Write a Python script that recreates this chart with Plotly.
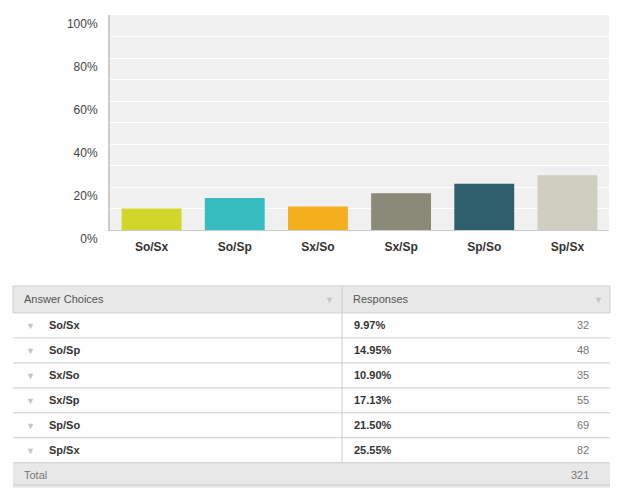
import plotly.graph_objs as go

# answer choices and survey results
choices = ['So/Sx', 'So/Sp', 'Sx/So', 'Sx/Sp', 'Sp/So', 'Sp/Sx']
percents = [9.97, 14.95, 10.90, 17.13, 21.50, 25.55]
counts = [32, 48, 35, 55, 69, 82]
total = 321
bar_colors = ['#d1d62b', '#35bdbf', '#f5ae1e', '#8a8a78', '#2d5f6d', '#d0cec0']
ytick_vals = [0, 0.2, 0.4, 0.6, 0.8, 1.0]
ytick_text = ['0%', '20%', '40%', '60%', '80%', '100%']
header_text = ['Answer Choices', 'Responses']

# positions below are pixels in the final picture. The page keeps an 8px
# body margin and the capture is squeezed vertically (found by trial),
# px/py turn picture pixels into paper coords.
OFF = 8
W, H = 622 - OFF, 494
SY = 494 / (H + 2 * OFF)
FONT = 'Arial, Liberation Sans, sans-serif'


def px(x):
    return (x - OFF) / W


def py(y):
    return 1 - (y / SY - OFF) / H


bar_data = go.Bar(
    x=choices,
    y=[p / 100 for p in percents],
    marker=dict(color=bar_colors, line=dict(width=0)),
    hoverinfo='skip',
)

fig = go.Figure(data=[bar_data])

# table, drawn with shapes and annotations in paper coords
tbl_left, tbl_right, tbl_mid = 13, 610, 342
head_top, head_h, row_h = 286, 27, 25
rows_top = head_top + head_h
total_top = rows_top + row_h * len(choices)
total_bot = total_top + row_h

shapes = []
annotations = []

shapes.append(dict(type='rect', xref='paper', yref='paper', x0=px(tbl_left), x1=px(tbl_right),
                   y0=py(head_top), y1=py(rows_top), fillcolor='#e8e8e8',
                   line=dict(color='#d0d0d0', width=1), layer='below'))
shapes.append(dict(type='rect', xref='paper', yref='paper', x0=px(tbl_left), x1=px(tbl_right),
                   y0=py(total_top), y1=py(total_bot), fillcolor='#e8e8e8',
                   line=dict(width=0), layer='below'))
shapes.append(dict(type='line', xref='paper', yref='paper', x0=px(tbl_mid), x1=px(tbl_mid),
                   y0=py(head_top), y1=py(total_top), line=dict(color='#cccccc', width=1)))
for i in range(len(choices) + 1):
    yy = max(py(rows_top + row_h * (i + 1)), 1.0 / H)
    shapes.append(dict(type='line', xref='paper', yref='paper', x0=px(tbl_left), x1=px(tbl_right),
                       y0=yy, y1=yy, line=dict(color='#cccccc', width=1)))


def txt(x, y, s, size=11, color='#333333', bold=False, anchor='left'):
    if bold:
        s = '<b>' + s + '</b>'
    annotations.append(dict(xref='paper', yref='paper', x=px(x), y=py(y), text=s,
                            showarrow=False, xanchor=anchor, yanchor='middle',
                            font=dict(family=FONT, size=size, color=color)))


hy = head_top + head_h / 2
txt(22, hy, header_text[0], color='#555555')
txt(351, hy, header_text[1], color='#555555')
txt(329, hy + 1, '▼', size=9, color='#c4c4c4', anchor='center')
txt(598, hy + 1, '▼', size=9, color='#c4c4c4', anchor='center')

for i, c in enumerate(choices):
    ry = rows_top + row_h * i + row_h / 2
    txt(30, ry + 1, '▼', size=9, color='#c4c4c4', anchor='center')
    txt(47, ry, c, bold=True)
    txt(352, ry, '%.2f%%' % percents[i], bold=True)
    txt(591, ry, str(counts[i]), color='#777777', anchor='right')

ty = total_top + row_h / 2
txt(22, ty, 'Total', color='#777777')
txt(591, ty, str(total), color='#777777', anchor='right')

fig.update_layout(
    width=W, height=H,
    margin=dict(l=0, r=0, t=0, b=0),
    paper_bgcolor='white',
    plot_bgcolor='#f0f0f0',
    showlegend=False,
    bargap=0.28,
    font=dict(family=FONT, size=12, color='#333333'),
    xaxis=dict(domain=[px(110), px(609)], showline=True, linecolor='#cccccc',
               linewidth=1, ticks='', tickfont=dict(size=12, color='#333333', weight='bold'),
               ticklabelstandoff=6, fixedrange=True),
    yaxis=dict(domain=[py(230), py(15)], range=[0, 1],
               tickvals=ytick_vals, ticktext=ytick_text,
               showgrid=True, gridcolor='white', gridwidth=1,
               minor=dict(dtick=0.1, showgrid=True, gridcolor='white', gridwidth=1),
               showline=True, linecolor='#cccccc', linewidth=2,
               zeroline=False, ticks='', ticklabelstandoff=8,
               ticklabelposition='outside bottom',
               tickfont=dict(size=12, color='#444444'), fixedrange=True),
    shapes=shapes,
    annotations=annotations,
)

fig.write_html("out.html")
